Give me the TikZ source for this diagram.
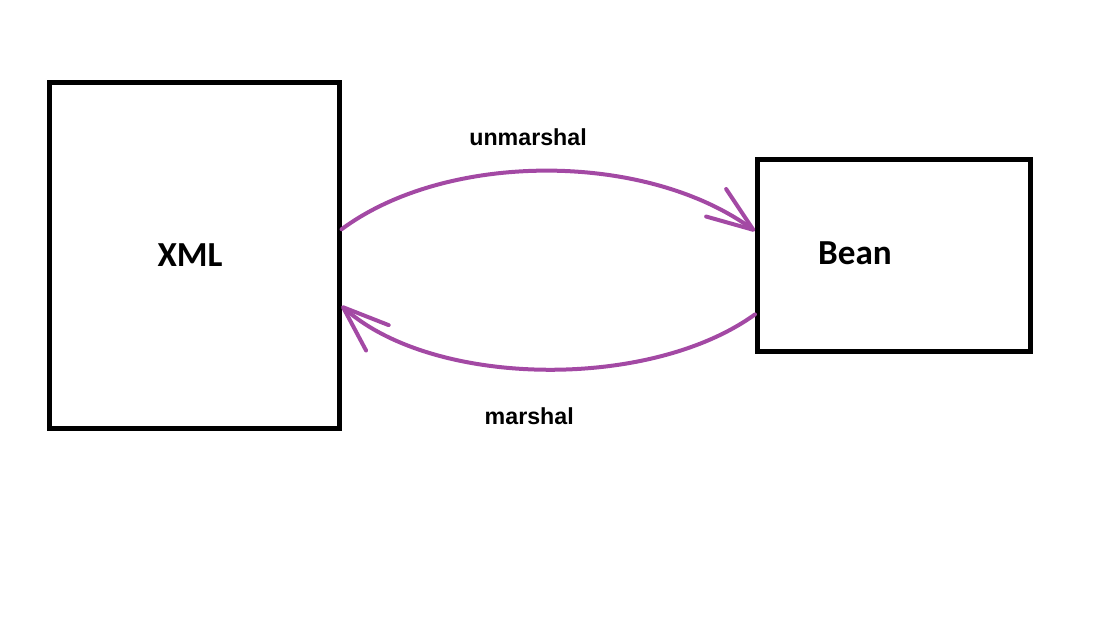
\documentclass[tikz,border=0pt]{standalone}
\usepackage{fontspec}
\setmainfont{Liberation Sans}
\newfontfamily\carlito{Carlito}
\usetikzlibrary{positioning}
\usetikzlibrary{arrows.meta}
\definecolor{paintpurple}{RGB}{163,73,164}

\begin{document}
\begin{tikzpicture}[x=0.025cm,y=-0.025cm,
    box/.style={draw,line width=0.125cm,inner sep=0},
    big/.style={font=\carlito\bfseries\fontsize{25}{30}\selectfont},
    small/.style={text=black,font=\bfseries\fontsize{16.5}{20}\selectfont,inner sep=0},
    flow/.style={paintpurple,line width=0.1cm,line cap=round,
      -{Straight Barb[length=1.15cm,width=0.85cm,round]}}]
        \useasboundingbox (0,0) rectangle (1106,628);

        \node[box,minimum width=7.225cm,minimum height=8.6375cm] (xml) at (194.5,255.25) {};
        \node[box,minimum width=6.8125cm,minimum height=4.775cm] (bean) at (893.75,255.5) {};
        \node[big] (xmllabel) at (190,255) {XML};
        \node[big] (beanlabel) at (855,253) {Bean};

        \draw[flow] (xml.10.5) .. controls +(105,-78) and +(-110,-80) .. (bean.170.8)
          node[pos=0.46,above=0.6cm,small] (unmarshal) {unmarshal};
        \draw[flow] (bean.203.2) .. controls +(-105,76) and +(92,82) .. (xml.-19.4)
          node[pos=0.53,below=0.92cm,small] (marshal) {marshal};
      \end{tikzpicture}
\end{document}
